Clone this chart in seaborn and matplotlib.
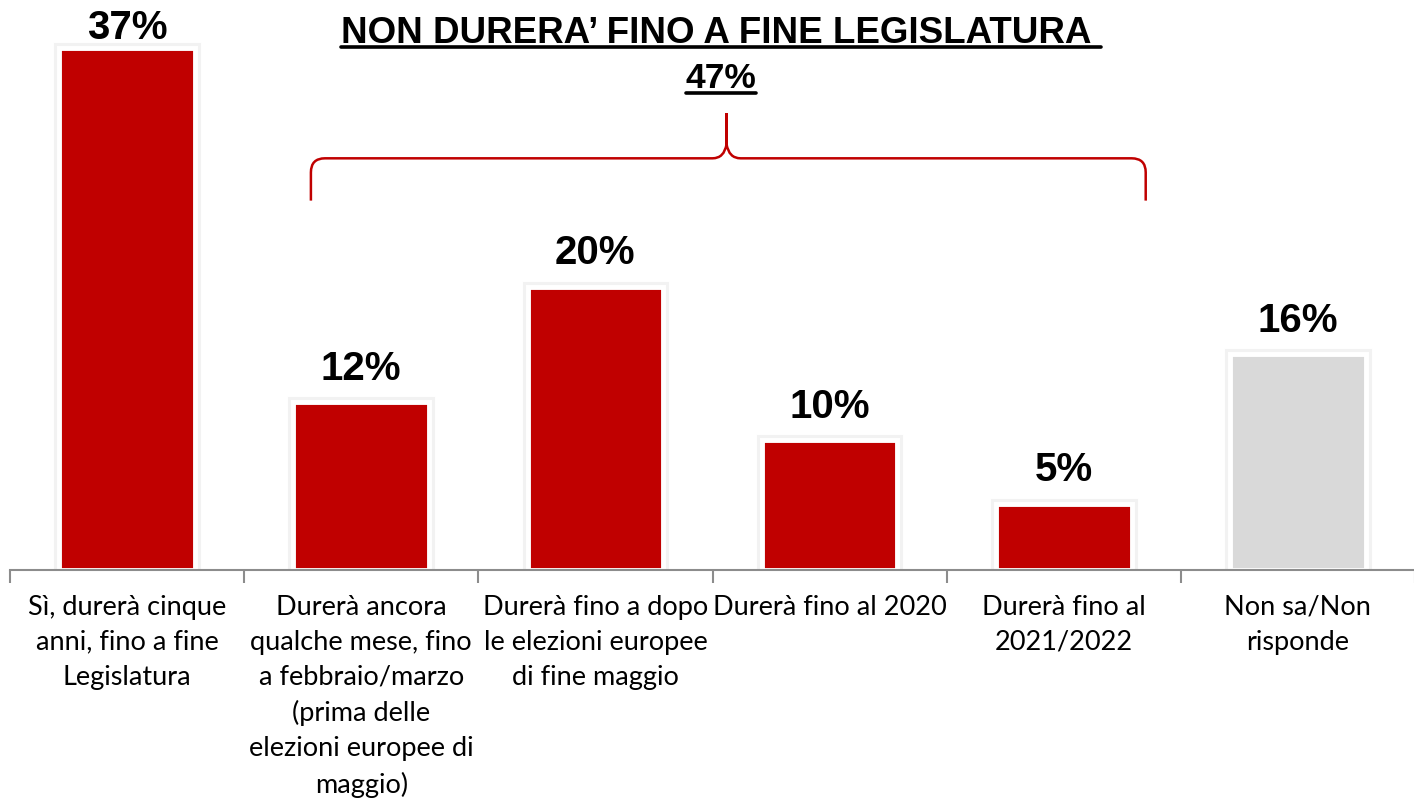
import numpy as np
import pandas as pd
import seaborn as sns
import matplotlib.pyplot as plt
from matplotlib.path import Path
from matplotlib.patches import PathPatch
from matplotlib.lines import Line2D
import matplotlib.patheffects as pe

categories = [
    "Sì, durerà cinque\nanni, fino a fine\nLegislatura",
    "Durerà ancora\nqualche mese, fino\na febbraio/marzo\n(prima delle\nelezioni europee di\nmaggio)",
    "Durerà fino a dopo\nle elezioni europee\ndi fine maggio",
    "Durerà fino al 2020",
    "Durerà fino al\n2021/2022",
    "Non sa/Non\nrisponde",
]
# bar heights as drawn in the picture, labels as printed
values = [37, 11.9, 20.1, 9.2, 4.7, 15.3]
value_labels = ["37%", "12%", "20%", "10%", "5%", "16%"]
bar_colors = ["#C00000", "#C00000", "#C00000", "#C00000", "#C00000", "#D9D9D9"]
title_text = "NON DURERA\u2019 FINO A FINE LEGISLATURA "
total_text = "47%"

df = pd.DataFrame({"cat": categories, "val": values})

sns.set_style("white")
plt.rcParams["font.family"] = ["Liberation Sans", "DejaVu Sans"]
plt.rcParams["text.color"] = "black"

W, H = 1414, 804
fig = plt.figure(figsize=(W / 100, H / 100), dpi=100)
ax = fig.add_axes([10 / W, (H - 571) / H, 1405 / W, 571 / H])

sns.barplot(data=df, x="cat", y="val", hue="cat", palette=bar_colors,
            legend=False, width=0.58, ax=ax, saturation=1)

for p, lab in zip(ax.patches, value_labels):
    p.set_edgecolor("white")
    p.set_linewidth(3.5)
    p.set_path_effects([pe.withStroke(linewidth=8, foreground="#f2f2f2"), pe.Normal()])
    off = 2 if p.get_height() > 30 else 11
    ax.annotate(lab,
                (p.get_x() + p.get_width() / 2., p.get_height()),
                ha="center", va="bottom", xytext=(0, off),
                textcoords="offset points", fontsize=29, fontweight="bold",
                color="black", annotation_clip=False)

ax.set_xlim(-0.5, 5.5)
ax.set_ylim(0, 40.5)
ax.set_xlabel("")
ax.set_ylabel("")
ax.set_yticks([])
for s in ["top", "left", "right"]:
    ax.spines[s].set_visible(False)
ax.spines["bottom"].set_color("#8c8c8c")
ax.spines["bottom"].set_linewidth(1.5)
ax.set_xticks(np.arange(-0.5, 6, 1), minor=True)
ax.tick_params(axis="x", which="minor", bottom=True, length=9, width=1.5,
               color="#8c8c8c", direction="out")
ax.tick_params(axis="x", which="major", length=0, pad=17)
for lab in ax.get_xticklabels():
    lab.set_fontfamily(["Lato", "DejaVu Sans"])
    lab.set_fontsize(19.5)
    lab.set_color("black")
    lab.set_linespacing(1.5)
    lab.set_verticalalignment("top")

# brace over the "non durera'" bars
xl, xm, xr = 0.785, 2.56, 4.35
yh, ye, yp = 29.2, 26.2, 32.4
rx, ry = 0.06, 1.0
verts = [(xl, ye), (xl, yh - ry), (xl, yh), (xl + rx, yh),
         (xm - rx, yh), (xm - 0.01, yh), (xm, yh + ry), (xm, yp),
         (xm, yh + ry), (xm + 0.01, yh), (xm + rx, yh),
         (xr - rx, yh), (xr, yh), (xr, yh - ry), (xr, ye)]
codes = [Path.MOVETO, Path.LINETO, Path.CURVE3, Path.CURVE3,
         Path.LINETO, Path.CURVE3, Path.CURVE3, Path.LINETO,
         Path.LINETO, Path.CURVE3, Path.CURVE3,
         Path.LINETO, Path.CURVE3, Path.CURVE3, Path.LINETO]
ax.add_patch(PathPatch(Path(verts, codes), facecolor="none", edgecolor="#C00000",
                       linewidth=1.8, clip_on=False))

t1 = fig.text(721 / W, 1 - 43 / H, title_text, ha="center", va="baseline",
              fontsize=26.5, fontweight="bold")
t2 = fig.text(721 / W, 1 - 88 / H, total_text, ha="center", va="baseline",
              fontsize=25.5, fontweight="bold")

fig.canvas.draw()
r = fig.canvas.get_renderer()
for t, uy in [(t1, 48), (t2, 94)]:
    bb = t.get_window_extent(renderer=r)
    fig.add_artist(Line2D([bb.x0 / W, bb.x1 / W], [1 - uy / H, 1 - uy / H],
                          transform=fig.transFigure, color="black", linewidth=2.6))

fig.savefig("out.png", dpi=100)
